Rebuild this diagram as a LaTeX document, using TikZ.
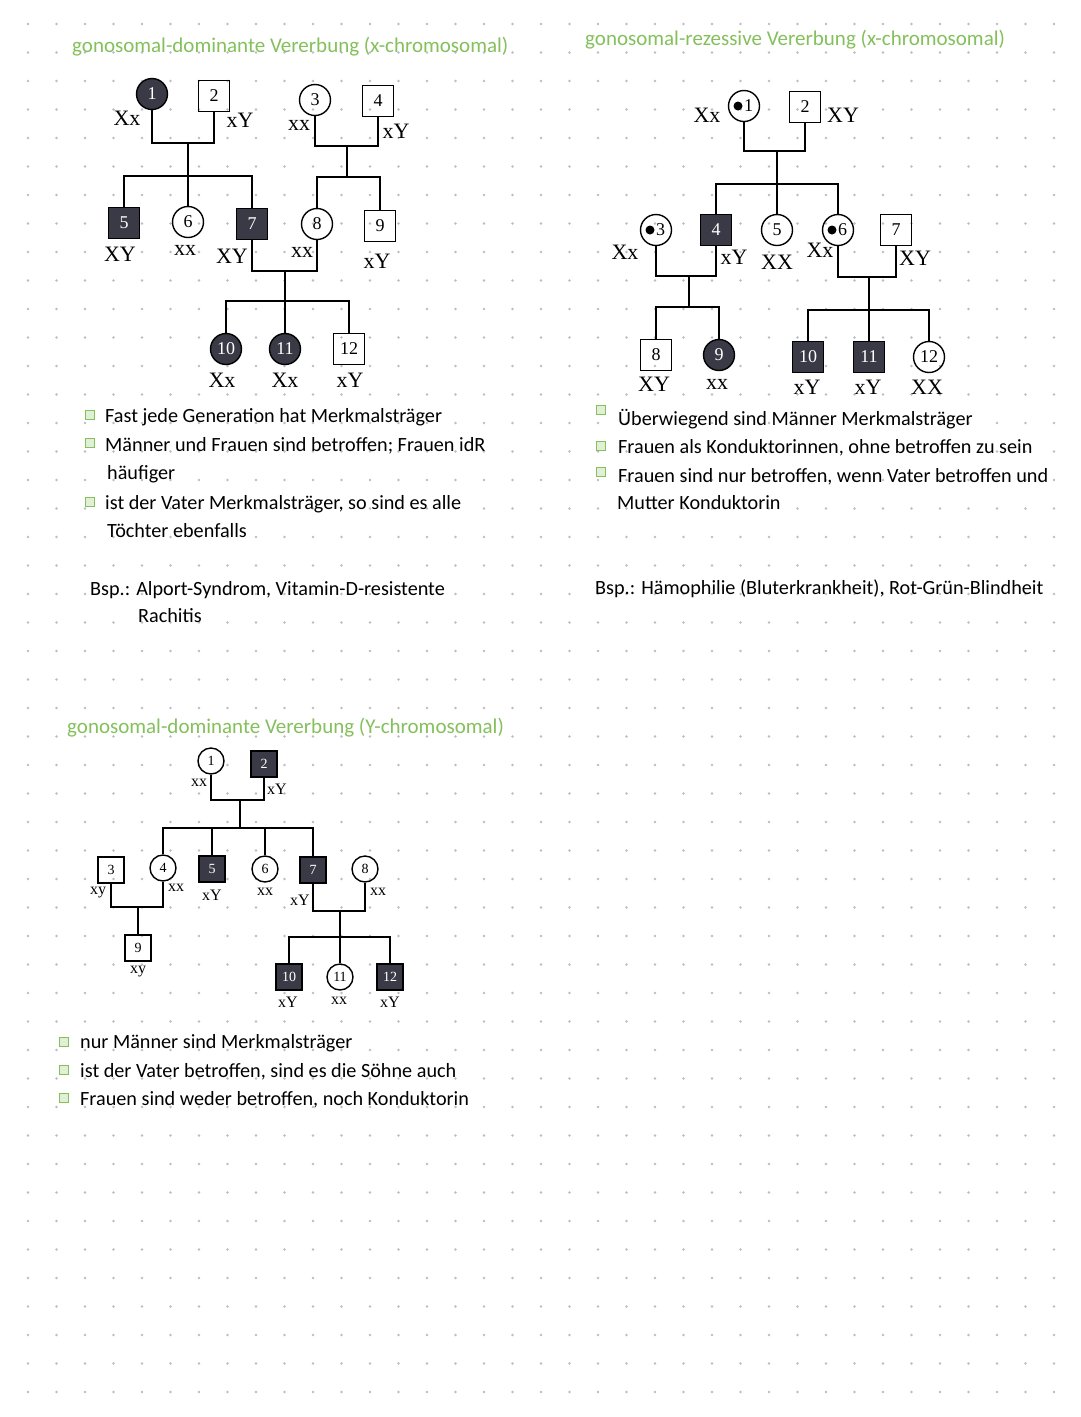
\documentclass[tikz,border=0pt]{standalone}
\usepackage{fontspec}
\setmainfont{Liberation Serif}
\newfontfamily\handfont{Carlito}
\definecolor{notegreen}{RGB}{132,192,92}
\definecolor{affected}{RGB}{58,58,70}
\definecolor{griddot}{RGB}{188,188,196}

\begin{document}
\begin{tikzpicture}[x=1pt,y=-1pt,
  male/.style={draw, line width=1.4pt, rectangle, minimum size=31pt, inner sep=0pt, font=\fontsize{18}{18}\selectfont},
  female/.style={draw, line width=1.4pt, circle, minimum size=31pt, inner sep=0pt, font=\fontsize{18}{18}\selectfont},
  aff/.style={fill=affected, text=white},
  carrier/.style={path picture={\fill ([xshift=-6pt]path picture bounding box.center) circle (4.5pt);}},
  mini/.style={minimum size=26pt, font=\fontsize{14}{14}\selectfont},
  geno/.style={font=\fontsize{22}{22}\selectfont, inner sep=0pt},
  sgeno/.style={font=\fontsize{16}{16}\selectfont, inner sep=0pt},
  conn/.style={line width=1.3pt},
  heading/.style={anchor=base west, text=notegreen, font=\handfont\fontsize{21}{21}\selectfont, inner sep=0pt},
  note/.style={anchor=base west, font=\handfont\fontsize{20.2}{20.2}\selectfont, inner sep=0pt},
  tickbox/.style={draw=notegreen, fill=notegreen!25, line width=1.6pt, minimum size=9pt, inner sep=0pt}
]

% Page and dot grid
\fill[white] (0,0) rectangle (1080,1417);
\useasboundingbox (0,0) rectangle (1080,1417);
\foreach \i in {0,...,36}{
  \foreach \j in {0,...,48}{
    \fill[griddot] (28+\i*28.5,24+\j*28.5) circle (1.3pt);
  }
}

% Headings
\node[heading] (h1) at (72,52) {gonosomal-dominante Vererbung (x-chromosomal)};
\node[heading] (h2) at (585,45) {gonosomal-rezessive Vererbung (x-chromosomal)};
\node[heading] (h3) at (67,733) {gonosomal-dominante Vererbung (Y-chromosomal)};

% Pedigree 1: x-dominant
\node[female, aff] (a1) at (152,94) {1};
\node[male] (a2) at (214,96) {2};
\node[female] (a3) at (315,100) {3};
\node[male] (a4) at (378,101) {4};
\node[male, aff] (a5) at (124,223) {5};
\node[female] (a6) at (188,222) {6};
\node[male, aff] (a7) at (252,224) {7};
\node[female] (a8) at (317,224) {8};
\node[male] (a9) at (380,226) {9};
\node[female, aff] (a10) at (226,349) {10};
\node[female, aff] (a11) at (285,349) {11};
\node[male] (a12) at (349,349) {12};

\coordinate (u1) at (188,143);
\coordinate (s1) at (188,176);
\coordinate (u2) at (347,146);
\coordinate (s2) at (347,177);
\coordinate (u3) at (285,271);
\coordinate (s3) at (285,301);

\draw[conn] (a1) |- (u1) -| (a2);
\draw[conn] (u1) -- (a6);
\draw[conn] (a5) |- (s1) -| (a7);
\draw[conn] (a3) |- (u2) -| (a4);
\draw[conn] (u2) -- (s2);
\draw[conn] (a8) |- (s2) -| (a9);
\draw[conn] (a7) |- (u3) -| (a8);
\draw[conn] (u3) -- (a11);
\draw[conn] (a10) |- (s3) -| (a12);

\node[geno] (ga1) at (127,118) {Xx};
\node[geno] (ga2) at (240,120) {xY};
\node[geno] (ga3) at (299,125) {xx};
\node[geno] (ga4) at (396,131) {xY};
\node[geno] (ga5) at (120,254) {XY};
\node[geno] (ga6) at (185,250) {xx};
\node[geno] (ga7) at (232,256) {XY};
\node[geno] (ga8) at (302,252) {xx};
\node[geno] (ga9) at (377,261) {xY};
\node[geno] (ga10) at (222,380) {Xx};
\node[geno] (ga11) at (285,380) {Xx};
\node[geno] (ga12) at (350,380) {xY};

% Pedigree 2: x-recessive
\node[female, carrier] (b1) at (744,106) {\makebox[18pt][r]{1}};
\node[male] (b2) at (805,107) {2};
\node[female, carrier] (b3) at (656,230) {\makebox[18pt][r]{3}};
\node[male, aff] (b4) at (716,230) {4};
\node[female] (b5) at (777,230) {5};
\node[female, carrier] (b6) at (838,230) {\makebox[18pt][r]{6}};
\node[male] (b7) at (896,230) {7};
\node[male] (b8) at (656,355) {8};
\node[female, aff] (b9) at (719,355) {9};
\node[male, aff] (b10) at (808,357) {10};
\node[male, aff] (b11) at (869,357) {11};
\node[female] (b12) at (929,357) {12};

\coordinate (u4) at (777,151);
\coordinate (s4) at (777,184);
\coordinate (u5) at (689,276);
\coordinate (s5) at (689,307);
\coordinate (u6) at (869,277);
\coordinate (s6) at (869,310);

\draw[conn] (b1) |- (u4) -| (b2);
\draw[conn] (u4) -- (b5);
\draw[conn] (b4) |- (s4) -| (b6);
\draw[conn] (b3) |- (u5) -| (b4);
\draw[conn] (u5) -- (s5);
\draw[conn] (b8) |- (s5) -| (b9);
\draw[conn] (b6) |- (u6) -| (b7);
\draw[conn] (u6) -- (b11);
\draw[conn] (b10) |- (s6) -| (b12);

\node[geno] (gb1) at (707,115) {Xx};
\node[geno] (gb2) at (843,115) {XY};
\node[geno] (gb3) at (625,252) {Xx};
\node[geno] (gb4) at (734,257) {xY};
\node[geno] (gb5) at (777,262) {XX};
\node[geno] (gb6) at (820,250) {Xx};
\node[geno] (gb7) at (915,258) {XY};
\node[geno] (gb8) at (654,384) {XY};
\node[geno] (gb9) at (717,384) {xx};
\node[geno] (gb10) at (807,387) {xY};
\node[geno] (gb11) at (868,387) {xY};
\node[geno] (gb12) at (927,387) {XX};

% Pedigree 3: Y-linked
\node[female, mini] (c1) at (211,761) {1};
\node[male, mini, aff] (c2) at (264,764) {2};
\node[male, mini] (c3) at (111,870) {3};
\node[female, mini] (c4) at (163,868) {4};
\node[male, mini, aff] (c5) at (212,869) {5};
\node[female, mini] (c6) at (265,869) {6};
\node[male, mini, aff] (c7) at (313,870) {7};
\node[female, mini] (c8) at (365,869) {8};
\node[male, mini] (c9) at (138,948) {9};
\node[male, mini, aff] (c10) at (289,977) {10};
\node[female, mini] (c11) at (340,977) {11};
\node[male, mini, aff] (c12) at (390,977) {12};

\coordinate (u7) at (240,800);
\coordinate (s7) at (240,828);
\coordinate (u8) at (138,907);
\coordinate (u9) at (340,911);
\coordinate (s9) at (340,937);

\draw[conn] (c1) |- (u7) -| (c2);
\draw[conn] (u7) -- (s7);
\draw[conn] (c4) |- (s7) -| (c7);
\draw[conn] (c5) |- (s7);
\draw[conn] (c6) |- (s7);
\draw[conn] (c3) |- (u8) -| (c4);
\draw[conn] (u8) -- (c9);
\draw[conn] (c7) |- (u9) -| (c8);
\draw[conn] (u9) -- (c11);
\draw[conn] (c10) |- (s9) -| (c12);

\node[sgeno] (gc1) at (199,783) {xx};
\node[sgeno] (gc2) at (277,789) {xY};
\node[sgeno] (gc3) at (98,893) {xy};
\node[sgeno] (gc4) at (176,888) {xx};
\node[sgeno] (gc5) at (212,895) {xY};
\node[sgeno] (gc6) at (265,892) {xx};
\node[sgeno] (gc7) at (300,900) {xY};
\node[sgeno] (gc8) at (378,892) {xx};
\node[sgeno] (gc9) at (138,972) {xy};
\node[sgeno] (gc10) at (288,1002) {xY};
\node[sgeno] (gc11) at (339,1001) {xx};
\node[sgeno] (gc12) at (390,1002) {xY};

% Notes, left
\node[tickbox] (k1) at (90,415) {};
\node[tickbox] (k2) at (90,443) {};
\node[tickbox] (k3) at (90,502) {};
\node[note] (n1) at (105,422) {Fast jede Generation hat Merkmalsträger};
\node[note] (n2) at (105,451) {Männer und Frauen sind betroffen; Frauen idR};
\node[note] (n3) at (107,479) {häufiger};
\node[note] (n4) at (105,509) {ist der Vater Merkmalsträger, so sind es alle};
\node[note] (n5) at (107,537) {Töchter ebenfalls};
\node[note] (n6) at (90,595) {Bsp.: Alport-Syndrom, Vitamin-D-resistente};
\node[note] (n7) at (138,622) {Rachitis};

% Notes, right
\node[tickbox] (k4) at (601,410) {};
\node[tickbox] (k5) at (601,446) {};
\node[tickbox] (k6) at (601,472) {};
\node[note] (n8) at (618,425) {Überwiegend sind Männer Merkmalsträger};
\node[note] (n9) at (618,453) {Frauen als Konduktorinnen, ohne betroffen zu sein};
\node[note] (n10) at (618,482) {Frauen sind nur betroffen, wenn Vater betroffen und};
\node[note] (n11) at (617,509) {Mutter Konduktorin};
\node[note] (n12) at (595,594) {Bsp.: Hämophilie (Bluterkrankheit), Rot-Grün-Blindheit};

% Notes, bottom
\node[tickbox] (k7) at (64,1042) {};
\node[tickbox] (k8) at (64,1070) {};
\node[tickbox] (k9) at (64,1098) {};
\node[note] (n13) at (80,1048) {nur Männer sind Merkmalsträger};
\node[note] (n14) at (80,1077) {ist der Vater betroffen, sind es die Söhne auch};
\node[note] (n15) at (80,1105) {Frauen sind weder betroffen, noch Konduktorin};

\end{tikzpicture}
\end{document}
